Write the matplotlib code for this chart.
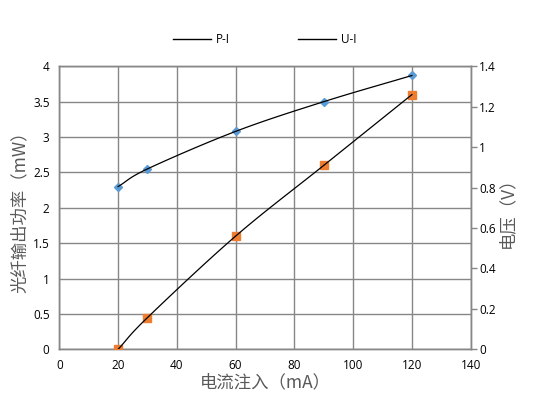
import numpy as np
import matplotlib
matplotlib.use("Agg")
import matplotlib.pyplot as plt
from matplotlib.lines import Line2D

current = [20, 30, 60, 90, 120]
power = [2.3, 2.55, 3.08, 3.5, 3.87]
voltage = [0.0, 0.157, 0.56, 0.91, 1.26]
x_ticks = [0, 20, 40, 60, 80, 100, 120, 140]
left_ticks = [0, 0.5, 1, 1.5, 2, 2.5, 3, 3.5, 4]
right_ticks = [0, 0.2, 0.4, 0.6, 0.8, 1.0, 1.2, 1.4]
series_names = ["P-I", "U-I"]

CJK = ["Noto Sans CJK SC", "DejaVu Sans"]
TICKF = ["Open Sans", "DejaVu Sans"]
GRID = "#878787"
LABEL = "#595959"


def smooth(xs, ys, n=30):
    xs = np.asarray(xs, float)
    ys = np.asarray(ys, float)
    px = np.concatenate([[2 * xs[0] - xs[1]], xs, [2 * xs[-1] - xs[-2]]])
    py = np.concatenate([[2 * ys[0] - ys[1]], ys, [2 * ys[-1] - ys[-2]]])
    ox, oy = [], []
    for i in range(1, len(px) - 2):
        t = np.linspace(0, 1, n)
        p0, p1, p2, p3 = (np.array([px[j], py[j]]) for j in (i - 1, i, i + 1, i + 2))
        a = 2 * p1
        b = p2 - p0
        c = 2 * p0 - 5 * p1 + 4 * p2 - p3
        d = -p0 + 3 * p1 - 3 * p2 + p3
        pts = 0.5 * (a[None] + b[None] * t[:, None] + c[None] * t[:, None] ** 2 + d[None] * t[:, None] ** 3)
        ox.extend(pts[:, 0])
        oy.extend(pts[:, 1])
    return np.array(ox), np.array(oy)


fig = plt.figure(figsize=(5.33, 4.03), dpi=100)
ax = fig.add_axes([0.1113, 0.1332, 0.8831 - 0.1113, 0.8355 - 0.1332])
ax2 = ax.twinx()

ax.set_xlim(0, 140)
ax.set_ylim(0, 4)
ax2.set_ylim(0, 1.4)
ax.set_xticks(x_ticks)
ax.set_yticks(left_ticks)
ax2.set_yticks(right_ticks)
ax.set_xticklabels([str(v) for v in x_ticks])
ax.set_yticklabels(["0", "0.5", "1", "1.5", "2", "2.5", "3", "3.5", "4"])
ax2.set_yticklabels(["0", "0.2", "0.4", "0.6", "0.8", "1", "1.2", "1.4"])

ax.grid(True, color=GRID, linewidth=1.0)
ax.set_axisbelow(True)
for a in (ax, ax2):
    for s in a.spines.values():
        s.set_color(GRID)
        s.set_linewidth(1.0)
TS = 8.5
ax.tick_params(axis="both", length=0, pad=7, labelsize=TS, labelcolor="#000000")
ax2.tick_params(axis="y", length=4, width=1.0, color=GRID, pad=2, labelsize=TS, labelcolor="#000000")
for lab in ax.get_xticklabels() + ax.get_yticklabels() + ax2.get_yticklabels():
    lab.set_family(TICKF)

# P-I (left axis)
ax.plot(current, power, linestyle="none", marker="D", markersize=4.5,
        color="#5B9BD5", zorder=3)
sx, sy = smooth(current, power)
ax.plot(sx, sy, color="black", linewidth=0.9, zorder=4)

# U-I (right axis)
ax2.plot(current, voltage, linestyle="none", marker="s", markersize=6,
         color="#ED7D31", zorder=3)
sx2, sy2 = smooth(current, voltage)
ax2.plot(sx2, sy2, color="black", linewidth=0.9, zorder=4)

ax.set_xlabel("电流注入（mA）", family=CJK, fontsize=12.5, color=LABEL, labelpad=1)
ax.set_ylabel("光纤输出功率（mW）", family=CJK, fontsize=12.5, color=LABEL, labelpad=3)
ax2.set_ylabel("电压（V）", family=CJK, fontsize=12.5, color=LABEL, labelpad=2)

handles = [Line2D([], [], color="black", linewidth=1.0) for _ in series_names]
fig.legend(handles, series_names, loc="center", bbox_to_anchor=(0.497, 0.902),
           ncol=2, frameon=False, handlelength=3.2,
           columnspacing=5.8, handletextpad=0.4, prop={"family": TICKF, "size": TS})

fig.savefig("out.png", dpi=100)
